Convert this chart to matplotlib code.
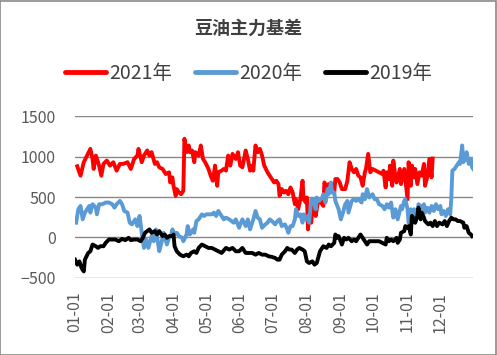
import matplotlib
matplotlib.use("Agg")
import matplotlib.pyplot as plt
import matplotlib.patches as mpatches
import pandas as pd

plt.rcParams["font.family"] = ["Noto Sans CJK SC", "DejaVu Sans"]

title = "豆油主力基差"
month_labels = ["01-01", "02-01", "03-01", "04-01", "05-01", "06-01",
                "07-01", "08-01", "09-01", "10-01", "11-01", "12-01"]
y_ticks = [-500, 0, 500, 1000, 1500]

# day of year / basis value
red_days = [3, 6, 9, 12, 15, 17, 18, 20, 23, 25, 27, 30, 33, 36, 39, 42, 45, 49, 52, 55,
            58, 59, 62, 64, 67, 69, 71, 74, 76, 78, 81, 84, 87, 88, 90, 91, 93, 94, 96, 98,
            100, 101, 103, 105, 106, 108, 110, 111, 114, 116, 118, 120, 123, 125, 127, 129, 131, 132, 135, 137,
            139, 141, 143, 145, 148, 150, 152, 154, 157, 159, 161, 163, 164, 166, 168, 170, 172, 174, 177, 180,
            183, 185, 187, 188, 190, 192, 194, 196, 198, 200, 202, 203, 205, 207, 209, 210, 212, 213, 214, 215,
            217, 218, 220, 221, 223, 225, 228, 229, 231, 233, 235, 238, 239, 241, 243, 245, 248, 250, 252, 254,
            256, 258, 260, 262, 264, 266, 267, 269, 271, 273, 276, 279, 282, 283, 285, 286, 288, 289, 291, 292,
            294, 295, 298, 299, 302, 303, 305, 306, 308, 309, 311, 312, 314, 316, 318, 320, 321, 323, 325, 327,
            328]
red_vals = [880, 764, 930, 1012, 1095, 970, 847, 1012, 888, 764, 909, 950, 888, 930, 826, 909, 909, 930, 847, 970,
            1012, 1095, 930, 1012, 1075, 1012, 1054, 909, 930, 867, 847, 784, 805, 680, 743, 639, 515, 598, 556, 535,
            577, 1220, 1054, 1137, 1054, 1075, 930, 1054, 1012, 1137, 970, 930, 847, 764, 701, 888, 639, 805, 826, 847,
            826, 1012, 888, 1033, 970, 1054, 888, 867, 1075, 970, 826, 888, 826, 1137, 1054, 1095, 1012, 888, 805, 743,
            680, 701, 660, 515, 598, 556, 577, 535, 618, 556, 411, 473, 349, 473, 701, 473, 432, 494, 100, 266,
            183, 390, 432, 266, 432, 452, 390, 680, 618, 660, 639, 556, 722, 722, 680, 598, 598, 701, 930, 847,
            805, 847, 764, 743, 639, 805, 847, 1033, 805, 847, 826, 805, 784, 826, 618, 805, 722, 888, 639, 950,
            743, 680, 847, 660, 847, 722, 473, 930, 639, 888, 743, 847, 660, 805, 764, 909, 639, 743, 971, 743,
            975]

blue_days = [2, 4, 6, 8, 10, 14, 15, 17, 20, 21, 23, 26, 29, 32, 35, 37, 39, 42, 44, 46,
             49, 51, 53, 56, 58, 60, 62, 64, 66, 68, 71, 73, 75, 78, 80, 82, 85, 87, 89, 90,
             92, 94, 96, 99, 100, 103, 104, 106, 109, 110, 112, 114, 117, 119, 121, 123, 126, 128, 130, 132,
             135, 137, 139, 142, 144, 146, 148, 151, 152, 154, 157, 159, 161, 164, 166, 168, 170, 172, 175, 177,
             179, 181, 184, 186, 188, 190, 193, 195, 196, 198, 200, 202, 203, 205, 207, 209, 210, 212, 214, 215,
             217, 219, 221, 222, 224, 227, 228, 230, 232, 233, 235, 236, 238, 239, 242, 244, 246, 248, 250, 251,
             254, 256, 258, 260, 263, 264, 266, 268, 270, 273, 275, 277, 279, 282, 284, 286, 288, 290, 292, 294,
             296, 299, 300, 302, 303, 305, 306, 308, 309, 311, 312, 314, 315, 317, 318, 320, 321, 323, 325, 327,
             329, 331, 333, 335, 336, 338, 340, 342, 344, 345, 346, 348, 350, 352, 353, 355, 356, 358, 359, 361,
             363, 364, 365]
blue_vals = [183, 349, 390, 224, 307, 390, 307, 411, 369, 286, 411, 411, 432, 432, 411, 369, 411, 452, 411, 328,
             307, 183, 162, 224, 141, 266, 58, -129, -25, -129, 17, -46, 100, -170, -66, 58, -87, -4, 37, 100,
             37, 58, 17, -4, -46, 37, 141, 37, 100, 58, 203, 224, 286, 266, 286, 286, 286, 307, 266, 328,
             266, 224, 245, 224, 203, 183, 224, 120, 162, 224, 141, 224, 100, 224, 328, 245, 224, 120, 162, 183,
             224, 203, 162, 203, 224, 141, 162, 100, 58, 141, 141, 224, 349, 266, 286, 183, 286, 224, 266, 183,
             473, 473, 349, 494, 452, 494, 535, 432, 598, 535, 680, 556, 556, 452, 349, 224, 307, 411, 452, 307,
             452, 473, 452, 473, 432, 535, 473, 598, 494, 535, 473, 473, 411, 390, 349, 411, 369, 432, 245, 349,
             224, 390, 349, 452, 473, 349, 183, 349, 224, 349, 183, 266, 411, 390, 349, 411, 307, 369, 307, 390,
             328, 411, 349, 390, 286, 328, 266, 349, 286, 473, 826, 847, 888, 930, 909, 1137, 930, 971, 1054, 909,
             971, 867, 847]

black_days = [1, 3, 5, 7, 9, 10, 13, 15, 17, 20, 22, 24, 27, 29, 32, 35, 38, 41, 44, 47,
              50, 52, 55, 58, 61, 63, 65, 67, 69, 71, 74, 76, 78, 81, 83, 85, 87, 90, 91, 92,
              94, 97, 100, 103, 105, 107, 110, 112, 114, 117, 120, 123, 126, 129, 132, 135, 139, 142, 145, 148,
              151, 154, 157, 160, 163, 166, 169, 172, 175, 178, 181, 184, 186, 188, 190, 193, 195, 197, 199, 202,
              204, 206, 209, 211, 213, 215, 218, 220, 222, 225, 226, 228, 231, 233, 235, 238, 239, 241, 242, 245,
              247, 249, 251, 254, 256, 258, 260, 262, 264, 266, 268, 270, 273, 276, 279, 282, 285, 286, 288, 290,
              292, 295, 296, 298, 299, 302, 303, 305, 306, 308, 309, 311, 312, 314, 315, 317, 318, 320, 321, 324,
              326, 328, 330, 332, 334, 337, 339, 341, 343, 345, 347, 349, 351, 353, 356, 357, 359, 361, 363, 364]
black_vals = [-274, -336, -295, -378, -419, -274, -191, -170, -87, -108, -129, -108, -108, -66, -25, -25, -25, -46, -17, -33,
              -4, -33, -25, -25, -46, -4, 58, 79, 100, 58, 79, 37, 79, 17, 37, -4, 17, 17, 37, -108,
              -170, -212, -232, -212, -232, -191, -170, -191, -129, -87, -108, -129, -129, -149, -170, -191, -129, -149, -129, -170,
              -170, -129, -191, -191, -191, -212, -191, -212, -212, -232, -240, -253, -274, -274, -212, -170, -129, -149, -149, -191,
              -149, -129, -149, -170, -295, -315, -295, -336, -315, -170, -149, -108, -129, -87, -108, -66, 37, -4, 17, -87,
              -4, -25, -4, -46, -25, -46, -4, 37, -4, -46, -87, -46, -46, -46, -46, -66, -87, -4, -46, -25,
              -46, -4, -66, -25, 58, 79, 141, 120, 141, 37, 266, 224, 183, 266, 369, 224, 307, 245, 203, 162,
              183, 141, 203, 141, 183, 162, 203, 141, 203, 245, 224, 224, 203, 203, 183, 120, 141, 58, 37, 17]

series = [("2021年", red_days, red_vals, "#FF0000"),
          ("2020年", blue_days, blue_vals, "#5B9BD5"),
          ("2019年", black_days, black_vals, "#000000")]

month_days = [pd.Timestamp("2019-" + m).dayofyear for m in month_labels]

fig = plt.figure(figsize=(4.97, 3.55), dpi=100)
ax = fig.add_axes([0.151, 0.217, 0.801, 0.456])

for name, days, vals, color in series:
    ax.plot(days, vals, color=color, linewidth=2.8, label=name, solid_joinstyle="round")

ax.set_xlim(1, 365)
ax.set_ylim(-500, 1500)
ax.set_yticks(y_ticks)
ax.set_xticks(month_days)
ax.set_xticklabels(month_labels, rotation=90)
ax.tick_params(axis="both", length=0, labelsize=11.5, colors="#595959")
ax.tick_params(axis="x", pad=10)
ax.tick_params(axis="y", pad=14)
ax.grid(axis="y", color="#898989", linewidth=1.0)
ax.set_axisbelow(True)
for spine in ax.spines.values():
    spine.set_visible(False)

fig.text(0.5, 0.921, title, ha="center", va="center", fontsize=13, fontweight="bold", color="#404040")

handles = [plt.Line2D([0], [0], color=c, linewidth=3.5, solid_capstyle="round") for _, _, _, c in series]
fig.legend(handles, [s[0] for s in series], loc="center", bbox_to_anchor=(0.5, 0.794), ncol=3,
           frameon=False, fontsize=14, handlelength=2.1, handletextpad=0.15, columnspacing=1.2,
           labelcolor="#404040")

fig.patches.append(mpatches.Rectangle((0.001, 0.001), 0.997, 0.997, transform=fig.transFigure,
                                      fill=False, edgecolor="#898989", linewidth=1.2))

fig.savefig("out.png", dpi=100)
